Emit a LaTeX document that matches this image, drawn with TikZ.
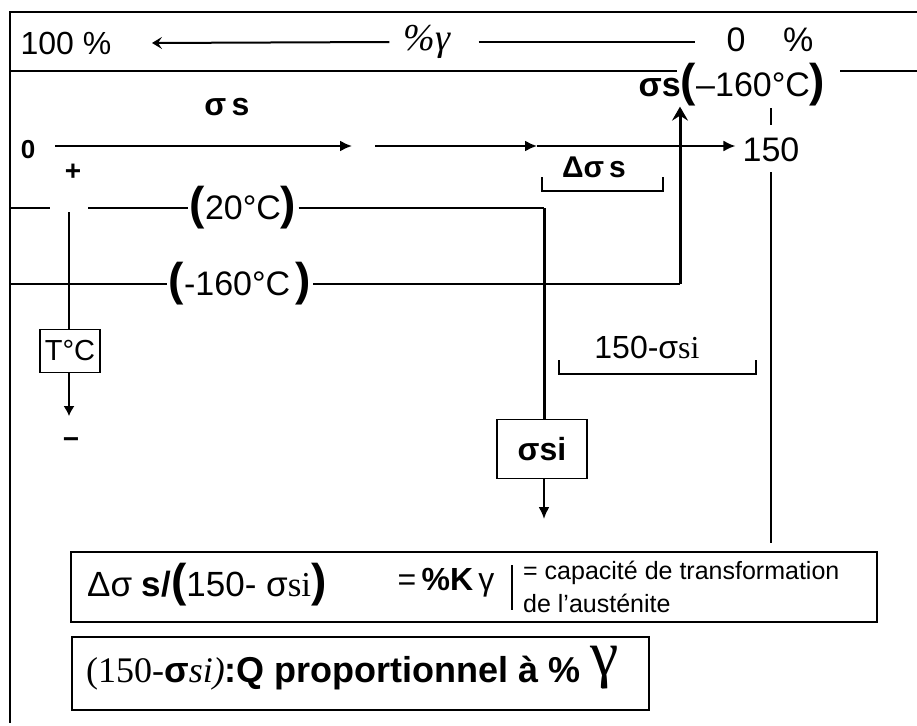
\documentclass[tikz,border=0pt]{standalone}
\usepackage{fontspec}
\setmainfont{Liberation Sans}
\newfontfamily\serifsi{Liberation Serif}
\usetikzlibrary{positioning,arrows.meta}

\newcommand{\fsz}[1]{\fontsize{#1}{#1}\selectfont}
\newcommand{\bigpar}[1]{{\fsz{46}\bfseries #1}}

\begin{document}
\begin{tikzpicture}[
    x=1pt, y=-1pt,
    lab/.style={inner sep=0pt, font=\fsz{#1}},
    lab/.default=30,
    box/.style={draw, line width=1.6pt, inner sep=0pt, font=\fsz{#1}},
    box/.default=30,
    frame/.style={line width=2.6pt},
    wire/.style={line width=2pt},
    heavy/.style={line width=3pt},
    thin/.style={line width=1.3pt},
    arr/.style={-{Latex[length=12pt,width=11pt]}, line width=2pt},
    arrthin/.style={-{Latex[length=10pt,width=11pt]}, line width=1.3pt},
    arrup/.style={-{Stealth[length=14pt,width=16pt,inset=5pt]}, line width=3pt},
    arrback/.style={{Stealth[length=10pt,width=12pt,inset=4pt]}-, line width=2pt}
]
    \useasboundingbox (0,0) rectangle (917,725);

    % frame
    \draw[frame] (917,12) -- (10,12) -- (10,723);
    \draw[frame] (10,71) -- (677,71);
    \draw[frame] (840,71) -- (917,71);

    % % gamma scale
    \node[lab=32] (cent) at (66,43) {100 \%};
    \node[lab=38] (pgam) at (427,42) {\serifsi\itshape\%γ};
    \node[lab=34] (nul) at (770,40) {0\hspace{1.1em}\%};
    \coordinate (ltip) at (152,43);
    \coordinate (rend) at (695,42);
    \draw[arrback] (ltip) -- ([xshift=-14pt]pgam.west);
    \draw[wire] ([xshift=28pt]pgam.east) -- (rend);

    % sigma s axis
    \node[lab=32] (sig) at (227,107) {\bfseries σ\,s};
    \node[lab=26] (orig) at (28,150) {\bfseries 0};
    \node[lab=34] (hund) at (771,150) {150};
    \coordinate (s0) at (55,146);
    \coordinate (s1) at (352,146);
    \coordinate (s2) at (375,146);
    \coordinate (s3) at (537,146);
    \draw[arr] (s0) -- (s1);
    \draw[arr] (s2) -- (s3);
    \draw[arr, shorten >=7pt] (s3) -- (hund.west |- s3);

    \node[lab=34] (sigm) at (732,85) {{\bfseries σs}\bigpar{(}–160°C\bigpar{)}};
    \node[lab=30] (dsig) at (594,167) {\bfseries Δσ\,s};
    \draw[thin] (542,177) -- (542,191) -- (663,191) -- (663,177);

    % temperature axis
    \node[lab=28] (plus) at (73,172) {\bfseries +};
    \node[box=29, minimum width=60pt, minimum height=43pt] (tc) at (70,351) {T°C};
    \node[lab=28] (moins) at (71,443) {\bfseries −};
    \coordinate (ax0) at (69,212);
    \coordinate (ax1) at (69,416);
    \draw[thin] (ax0) -- (tc.north -| ax0);
    \draw[arrthin] (tc.south -| ax1) -- (ax1);

    % 20 °C
    \node[lab=34] (t20) at (243,208) {\bigpar{(}20°C\bigpar{)}};
    \node[box=32, minimum width=90pt, minimum height=59pt] (sigi) at (542,449) {\bfseries σsi};
    \coordinate (c20) at (544,208);
    \coordinate (sigend) at (544,519);
    \draw[wire] (10,208) -- (50,208);
    \draw[wire, shorten >=2pt] (88,208) -- (t20.west);
    \draw[wire, shorten <=2pt] (t20.east) -- (c20);
    \draw[heavy] (c20) -- (sigi.north -| c20);
    \draw[arr] (sigi.south -| sigend) -- (sigend);

    % -160 °C
    \node[lab=34] (t160) at (240,284) {\bigpar{(}-160°C\,\bigpar{)}};
    \coordinate (c160) at (680,284);
    \draw[wire, shorten >=2pt] (10,284) -- (t160.west);
    \draw[wire, shorten <=2pt] (t160.east) -- (c160);
    \draw[arrup] (c160) -- (sigm.south -| c160);

    % 150 - sigma si
    \node[lab=32] (dif) at (647,347) {150-σ{\serifsi si}};
    \draw[thin] (559,360) -- (559,374) -- (756,374) -- (756,360);

    % limit at 150
    \draw[thin] (771,108) -- (771,125);
    \draw[thin] (771,172) -- (771,543);

    % result boxes
    \draw[wire] (71,552) rectangle (877,622);
    \node[lab=35, anchor=west] (ratio) at (87,585) {Δσ {\bfseries s/}\bigpar{(}150- σ{\serifsi si}\bigpar{)}};
    \node[lab=32] (kgam) at (446,583) {=\,{\bfseries\%K}\,γ};
    \draw[thin] (512,565) -- (512,610);
    \node[lab=25, font=\fontsize{25}{33}\selectfont, anchor=west, align=left] (capa) at (523,587) {= capacité de transformation\\de l'austénite};

    \draw[wire] (72,637) rectangle (649,710);
    \node[lab=36, anchor=west] (prop) at (86,673) {{\serifsi (150-}{\bfseries σ}{\serifsi\itshape si)}\bfseries :Q proportionnel à \%};
    \node[lab=64] (gbig) at (605,668) {\serifsi γ};
\end{tikzpicture}
\end{document}
